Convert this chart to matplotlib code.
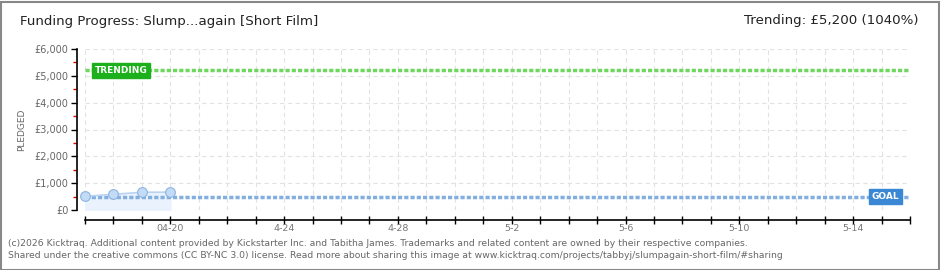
import matplotlib
matplotlib.use("Agg")
import matplotlib.pyplot as plt
import pandas as pd
import numpy as np

# ---- data ----
dates = ["2015-04-17", "2015-04-18", "2015-04-19", "2015-04-20"]
pledged = [510, 585, 660, 665]
goal = 500
trending = 5200
x_start, x_end = "2015-04-17", "2015-05-16"
label_dates = ["2015-04-20", "2015-04-24", "2015-04-28", "2015-05-02",
               "2015-05-06", "2015-05-10", "2015-05-14"]
label_texts = ["04-20", "4-24", "4-28", "5-2", "5-6", "5-10", "5-14"]
y_ticks = [0, 1000, 2000, 3000, 4000, 5000, 6000]
y_labels = ["£0", "£1,000", "£2,000", "£3,000", "£4,000", "£5,000", "£6,000"]
title = "Funding Progress: Slump...again [Short Film]"
trend_text = "Trending: £5,200 (1040%)"
footer1 = ("(c)2026 Kicktraq. Additional content provided by Kickstarter Inc. and Tabitha James. "
           "Trademarks and related content are owned by their respective companies.")
footer2 = ("Shared under the creative commons (CC BY-NC 3.0) license. Read more about sharing this "
           "image at www.kicktraq.com/projects/tabbyj/slumpagain-short-film/#sharing")

W, H = 940, 270
fig = plt.figure(figsize=(W / 100, H / 100), dpi=100)
fig.patch.set_facecolor("white")

# border
fig.add_artist(plt.Rectangle((0.5 / W, 0.5 / H), 1 - 2 / W, 1 - 2 / H, transform=fig.transFigure,
                             fill=False, edgecolor="#888888", linewidth=1.5))

ax = fig.add_axes([85 / W, (H - 210) / H, (910 - 85) / W, (210 - 49) / H])
ax.set_facecolor("white")

xd = pd.to_datetime(dates)
xs, xe = pd.to_datetime(x_start), pd.to_datetime(x_end)
ax.set_xlim(xs, xe)
ax.set_ylim(0, 6000)

days = pd.date_range(xs, xe, freq="D")
ax.set_xticks(days)
ax.set_xticklabels([label_texts[label_dates.index(d.strftime("%Y-%m-%d"))]
                    if d.strftime("%Y-%m-%d") in label_dates else "" for d in days])
ax.set_yticks(y_ticks)
ax.set_yticklabels(y_labels)
ax.set_yticks(np.arange(500, 6000, 1000), minor=True)
ax.grid(True, which="major", color="#e2e2e2", linestyle=(0, (4, 3)), linewidth=0.8)
ax.set_axisbelow(True)

for s in ["top", "right"]:
    ax.spines[s].set_visible(False)
ax.spines["left"].set_position(("outward", 6))
ax.spines["bottom"].set_position(("outward", 7.2))
ax.spines["left"].set_linewidth(1.2)
ax.spines["bottom"].set_linewidth(1.2)
ax.spines["left"].set_bounds(0, 6000)

ax.tick_params(axis="y", which="major", length=4, width=1, color="black",
               labelsize=7, labelcolor="#666666", pad=2)
ax.tick_params(axis="y", which="minor", length=3, width=1, color="#e00000")
ax.tick_params(axis="x", which="major", direction="inout", length=6, width=1, color="black",
               labelsize=6.8, labelcolor="#777777", pad=0)

ax.set_ylabel("PLEDGED", fontsize=6.5, color="#666666", labelpad=6)

# goal and trending lines
ax.axhline(goal, color="#82aee0", linewidth=2.5, linestyle=(0, (1.2, 0.6)), zorder=2)
ax.axhline(trending, color="#6fd660", linewidth=2.5, linestyle=(0, (1.2, 0.6)), zorder=2)

# data
ax.fill_between(xd, 0, pledged, color="#eaf3fd", zorder=1)
ax.plot(xd, pledged, color="#b8d4f2", linewidth=1.2, zorder=3)
ax.plot(xd, pledged, linestyle="none", marker="o", markersize=7, markerfacecolor="#c2dcf7",
        markeredgecolor="#8fb2dc", markeredgewidth=0.8, zorder=4, clip_on=False)

# labels on lines
ax.text(pd.to_datetime("2015-04-17") + pd.Timedelta(hours=8), trending, "TRENDING", fontsize=6.5,
        color="white", fontweight="bold", va="center", ha="left",
        bbox=dict(boxstyle="square,pad=0.3", facecolor="#1cb01c", edgecolor="#1cb01c"), zorder=5)
ax.text(pd.to_datetime("2015-05-15") + pd.Timedelta(hours=15), goal, "GOAL", fontsize=6.5,
        color="white", fontweight="bold", va="center", ha="right",
        bbox=dict(boxstyle="square,pad=0.3", facecolor="#3a87d6", edgecolor="#3a87d6"), zorder=5)

# titles
fig.text(20 / W, 1 - 22 / H, title, fontsize=9.6, color="#222222", va="center", ha="left")
fig.text(918 / W, 1 - 21 / H, trend_text, fontsize=9.6, color="#222222", va="center", ha="right")

# footer
fig.text(8 / W, 1 - 243 / H, footer1, fontsize=6.7, color="#666666", va="center", ha="left")
fig.text(8 / W, 1 - 256 / H, footer2, fontsize=6.7, color="#666666", va="center", ha="left")

fig.savefig("out.png", dpi=100)
